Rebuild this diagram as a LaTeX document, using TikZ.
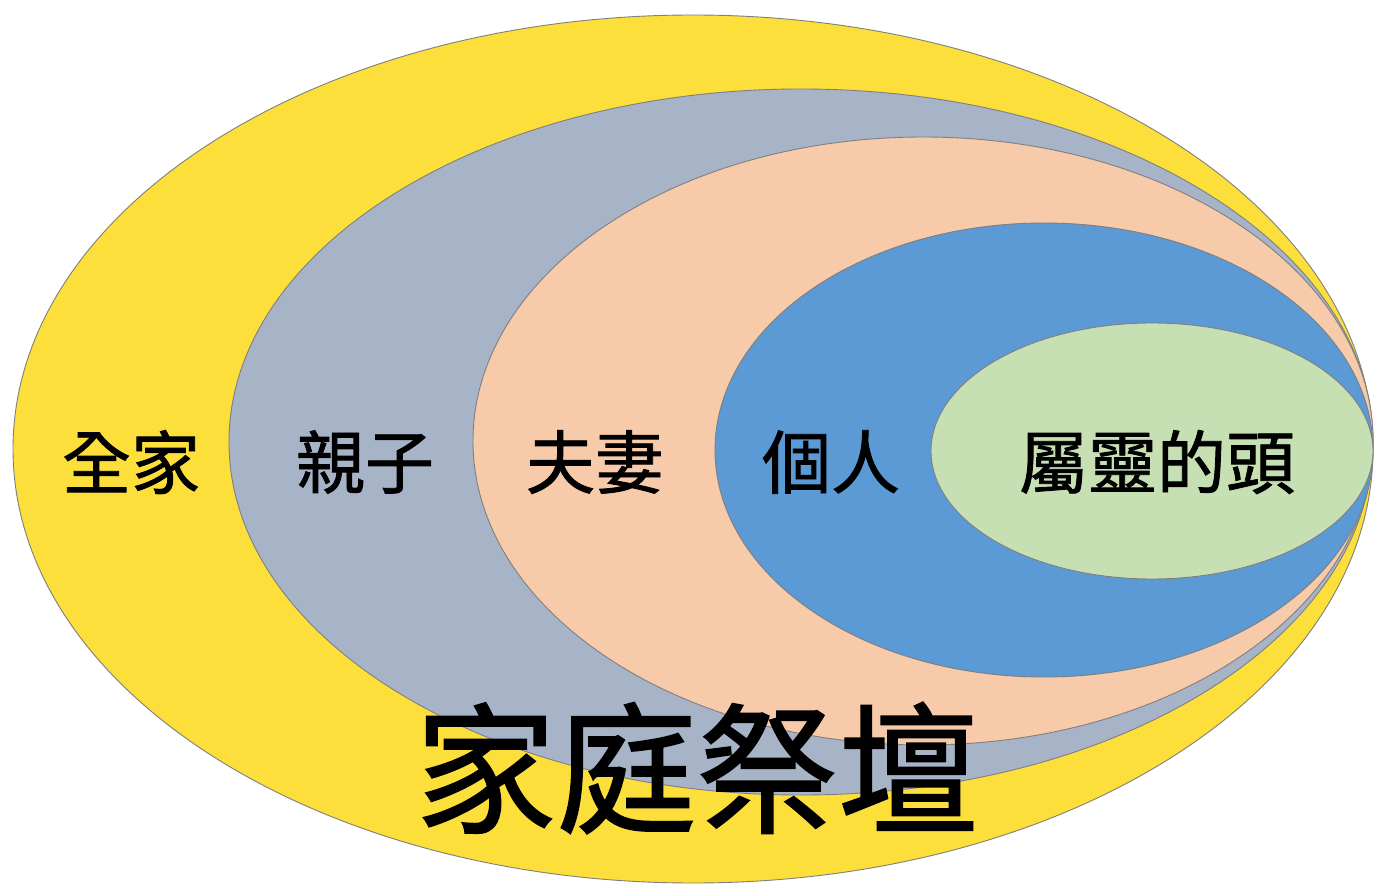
\documentclass[tikz,border=0pt]{standalone}
\usepackage{fontspec}
\newfontfamily\cjk[FakeBold=1.2]{Noto Sans CJK TC}
\definecolor{cyellow}{HTML}{FCDF3A}
\definecolor{cgray}{HTML}{A7B4C8}
\definecolor{cpeach}{HTML}{F7CAAA}
\definecolor{cblue}{HTML}{5B9AD5}
\definecolor{cgreen}{HTML}{C6E0B4}
\definecolor{cline}{HTML}{7F7F7F}
\tikzset{
  ring/.style={draw=cline, line width=0.9pt},
  lbl/.style={font=\cjk\fontsize{69}{74}\selectfont, text=black, inner sep=0pt},
  big/.style={font=\cjk\fontsize{141}{146}\selectfont, text=black, inner sep=0pt}
}
\begin{document}
\begin{tikzpicture}[x=1pt,y=-1pt]
\useasboundingbox (0,0) rectangle (1374,885);
\fill[white] (0,0) rectangle (1374,885);
\filldraw[ring, fill=cyellow] (693,449) ellipse [x radius=680, y radius=434];
\filldraw[ring, fill=cgray] (801,442) ellipse [x radius=572, y radius=353];
\filldraw[ring, fill=cpeach] (923,441) ellipse [x radius=450, y radius=304];
\filldraw[ring, fill=cblue] (1044,450) ellipse [x radius=329, y radius=227];
\filldraw[ring, fill=cgreen] (1152,451) ellipse [x radius=221, y radius=128];
\node[lbl] (quanjia) at (131,462) {全家};
\node[lbl] (qinzi) at (365,462) {親子};
\node[lbl] (fuqi) at (595,462) {夫妻};
\node[lbl] (geren) at (831,462) {個人};
\node[lbl] (tou) at (1157,462) {屬靈的頭};
\node[big] (jiating) at (697,768) {家庭祭壇};
\end{tikzpicture}
\end{document}
